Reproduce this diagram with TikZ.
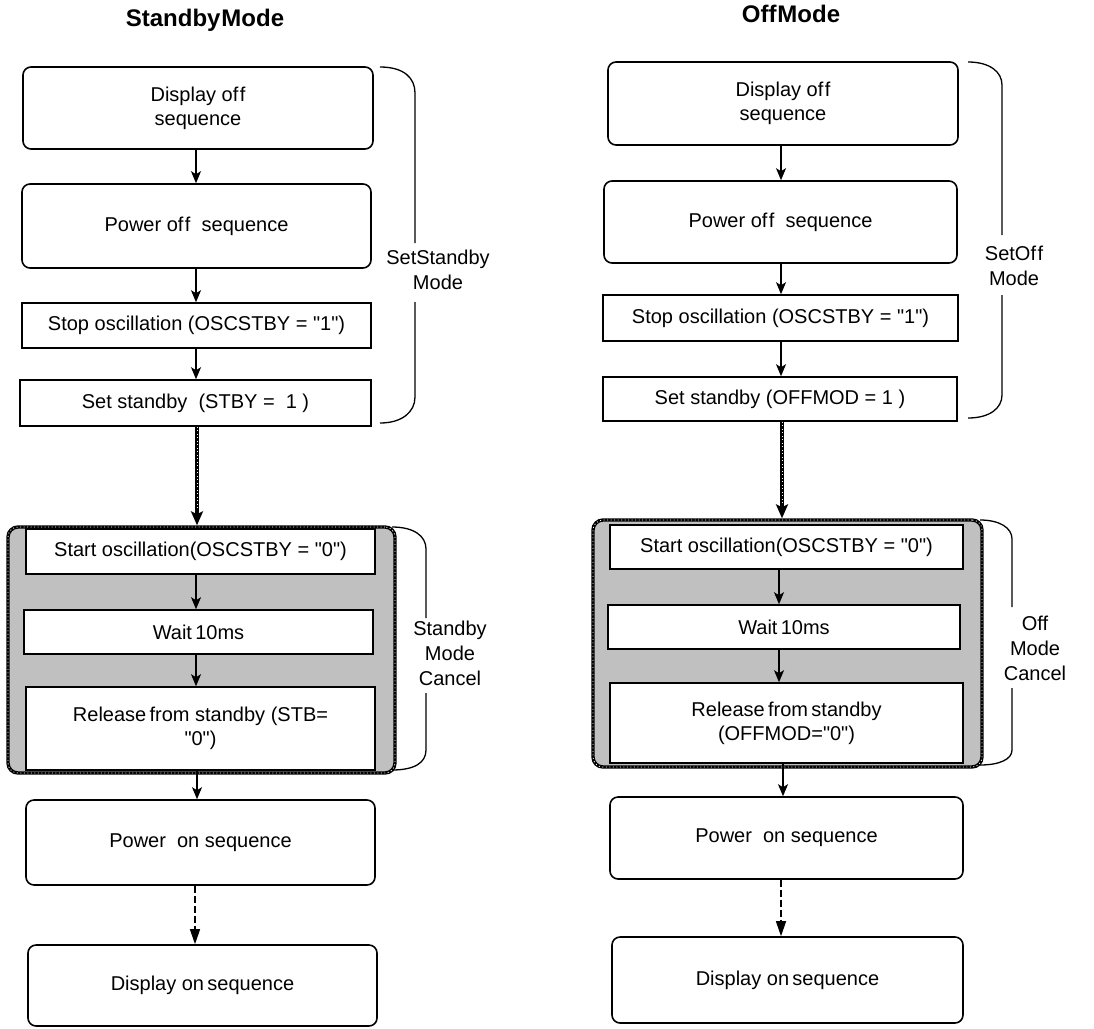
\documentclass[tikz,border=0pt]{standalone}
\usepackage{fontspec}
\setmainfont{Liberation Sans}[Ligatures=TeXOff]
\usetikzlibrary{arrows.meta}
\definecolor{graybg}{HTML}{C0C0C0}
\begin{document}
\begin{tikzpicture}[x=1pt,y=-1pt,
  txt/.style={font=\fontsize{20}{24}\selectfont, align=center},
  rbox/.style={txt, draw, line width=1.6pt, rounded corners=8pt, fill=white, inner sep=0pt},
  sbox/.style={txt, draw, line width=1.6pt, fill=white, inner sep=0pt},
  grp/.style={draw, fill=graybg, line width=3.4pt, rounded corners=10pt, inner sep=0pt,
    postaction={draw=white, line width=0.8pt, dash pattern=on 1pt off 2.5pt}},
  arr/.style={line width=1.3pt, -{Stealth[length=12pt,width=10pt,inset=3pt]}},
  thickarr/.style={line width=3.4pt, -{Stealth[length=14pt,width=12pt,inset=3pt]},
    postaction={draw=white, line width=0.8pt, dash pattern=on 1pt off 2.5pt, arrows=-, shorten >=15pt}},
  dasharr/.style={line width=1.3pt, dash pattern=on 7pt off 3pt, -{Triangle[length=15pt,width=10pt]}},
  brace/.style={line width=1.3pt},
  blabel/.style={font=\fontsize{20}{25}\selectfont, align=center, inner sep=0pt},
  ttl/.style={font=\fontsize{24}{28}\selectfont\bfseries, inner sep=0pt}
]
\useasboundingbox (0,0) rectangle (1094,1028);
\fill[white] (0,0) rectangle (1094,1028);

% ---------- titles ----------
\node[ttl] (tL) at (205,20) {Standby\kern1pt Mode};
\node[ttl] (tR) at (791,14) {Off\kern1pt Mode};

% ---------- left column ----------
\coordinate (axL) at (196,0);
\node[rbox, minimum width=350, minimum height=82] (L1) at (198,108) {Display of\kern1.5pt f\\sequence};
\node[rbox, minimum width=349, minimum height=84] (L2) at (196.5,226) {Power of\kern1.5pt f\ \ sequence};
\node[sbox, minimum width=349, minimum height=45] (L3) at (196.5,325.5) {Stop oscillation (OSCSTBY = "1")};
\node[sbox, minimum width=351, minimum height=46] (L4) at (195.5,403) {Set standby\ \ (STBY =\ \ 1 )};
\node[grp, minimum width=387, minimum height=246] (LG) at (201.5,650) {};
\node[sbox, minimum width=349, minimum height=45] (L5) at (200.5,551.5) {Start oscillation(OSCSTBY = "0")};
\node[sbox, minimum width=349, minimum height=44] (L6) at (198.5,632) {Wait\,10ms};
\node[sbox, minimum width=349, minimum height=83] (L7) at (200.5,728.5) {Release\,from standby (STB=\\"0")};
\node[rbox, minimum width=349, minimum height=85] (L8) at (200.5,842.5) {Power\ \ on sequence};
\node[rbox, minimum width=349, minimum height=81] (L9) at (202.5,985.5) {Display on\,sequence};

\draw[arr] (L1.south -| axL) -- (L2.north -| axL);
\draw[arr] (L2.south -| axL) -- (L3.north -| axL);
\draw[arr] (L3.south -| axL) -- (L4.north -| axL);
\coordinate (axL2) at (197,0);
\draw[thickarr] (L4.south -| axL2) -- (LG.north -| axL2);
\draw[arr] (L5.south -| axL) -- (L6.north -| axL);
\draw[arr] (L6.south -| axL) -- (L7.north -| axL);
\draw[arr] (L7.south -| axL2) -- (L8.north -| axL2);
\coordinate (axL3) at (195,0);
\draw[dasharr] (L8.south -| axL3) -- (L9.north -| axL3);

% braces left
\node[blabel] (bL1) at (438,270) {SetStandby\\Mode};
\draw[brace] (380,67) .. controls (404,67) and (415,78) .. (415,93) -- (415,243);
\draw[brace] (415,302) -- (415,397) .. controls (415,412) and (402,423) .. (380,423);
\node[blabel] (bL2) at (450,653) {Standby\\Mode\\Cancel};
\draw[brace] (392,527) .. controls (414,527) and (426,536) .. (426,549) -- (426,618);
\draw[brace] (426,693) -- (426,750) .. controls (426,763) and (414,770) .. (392,770);

% ---------- right column ----------
\coordinate (axR) at (781,0);
\node[rbox, minimum width=350, minimum height=83] (R1) at (783,103.5) {Display of\kern1.5pt f\\sequence};
\node[rbox, minimum width=353, minimum height=82] (R2) at (780.5,222) {Power of\kern1.5pt f\ \ sequence};
\node[sbox, minimum width=355, minimum height=46] (R3) at (780.5,318) {Stop oscillation (OSCSTBY = "1")};
\node[sbox, minimum width=354, minimum height=44] (R4) at (780,399) {Set standby (OFFMOD = 1 )};
\node[grp, minimum width=389, minimum height=247] (RG) at (787.5,643.5) {};
\node[sbox, minimum width=353, minimum height=44] (R5) at (786.5,547) {Start oscillation(OSCSTBY = "0")};
\node[sbox, minimum width=352, minimum height=44] (R6) at (784,627) {Wait\,10ms};
\node[sbox, minimum width=353, minimum height=80] (R7) at (786.5,723) {Release\,from\,standby\\(OFFMOD="0")};
\node[rbox, minimum width=353, minimum height=82] (R8) at (786.5,838) {Power\ \ on sequence};
\node[rbox, minimum width=351, minimum height=86] (R9) at (787.5,980) {Display on\,sequence};

\draw[arr] (R1.south -| axR) -- (R2.north -| axR);
\draw[arr] (R2.south -| axR) -- (R3.north -| axR);
\draw[arr] (R3.south -| axR) -- (R4.north -| axR);
\coordinate (axR2) at (782,0);
\draw[thickarr] (R4.south -| axR2) -- (RG.north -| axR2);
\coordinate (axR0) at (779,0);
\draw[arr] (R5.south -| axR0) -- (R6.north -| axR0);
\draw[arr] (R6.south -| axR0) -- (R7.north -| axR0);
\coordinate (axR3) at (783,0);
\draw[arr] (R7.south -| axR3) -- (R8.north -| axR3);
\draw[dasharr] (R8.south -| axR) -- (R9.north -| axR);

% braces right
\node[blabel] (bR1) at (1014,266) {SetOf\kern1.5pt f\\Mode};
\draw[brace] (968,62) .. controls (990,62) and (1002,72) .. (1002,85) -- (1002,235);
\draw[brace] (1002,295) -- (1002,395) .. controls (1002,408) and (990,418) .. (968,418);
\node[blabel] (bR2) at (1035,648) {Off\\Mode\\Cancel};
\draw[brace] (980,520) .. controls (1000,520) and (1012,528) .. (1012,539) -- (1012,607);
\draw[brace] (1012,688) -- (1012,750) .. controls (1012,759) and (1000,765) .. (980,765);
\end{tikzpicture}
\end{document}
